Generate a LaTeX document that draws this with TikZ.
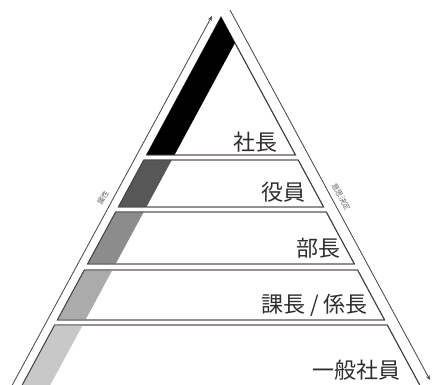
\documentclass[tikz,border=0pt]{standalone}
\usepackage{fontspec}
\newfontfamily\jp{Noto Sans CJK JP}
\usetikzlibrary{arrows.meta}
\definecolor{edge}{HTML}{4A4242}
\definecolor{bandA}{HTML}{000000}
\definecolor{bandB}{HTML}{575757}
\definecolor{bandC}{HTML}{8C8C8C}
\definecolor{bandD}{HTML}{ABABAB}
\definecolor{bandE}{HTML}{C8C8C8}
\definecolor{txt}{HTML}{2E2E2E}
\tikzset{
  layer/.style={draw=edge, line width=0.9pt, fill=white, line join=miter},
  lbl/.style={font=\jp\fontsize{22}{22}\selectfont, text=txt, anchor=east, inner sep=0pt},
  side/.style={font=\jp\fontsize{7.5}{7.5}\selectfont, text=edge!80, inner sep=0pt},
  axis/.style={draw=edge, line width=0.8pt, -{Stealth[length=5pt,width=4pt]}},
  shelf/.style={draw=edge, line width=0.9pt}
}
\begin{document}
\begin{tikzpicture}[x=1pt,y=-1pt]
\useasboundingbox (0,0) rectangle (432,385);
\clip (0,0) rectangle (432,385);
\fill[white] (0,0) rectangle (432,385);
% named corner coordinates
\coordinate (apex) at (221,17);
\coordinate (tr) at (235,43);
\coordinate (l1b) at (146.5,155); \coordinate (r1b) at (295.5,155);
\coordinate (l2t) at (143.8,160); \coordinate (r2t) at (298.2,160);
\coordinate (l2b) at (118.4,207); \coordinate (r2b) at (323.6,207);
\coordinate (l3t) at (115.7,212); \coordinate (r3t) at (326.3,212);
\coordinate (l3b) at (87.6,264);  \coordinate (r3b) at (354.4,264);
\coordinate (l4t) at (84.4,270);  \coordinate (r4t) at (357.6,270);
\coordinate (l4b) at (57.4,320);  \coordinate (r4b) at (384.6,320);
\coordinate (l5t) at (54.7,325);  \coordinate (r5t) at (387.3,325);
\coordinate (l5b) at (18.5,392);  \coordinate (r5b) at (423.5,392);
% layers
\path[layer] (apex) -- (r1b) -- (l1b) -- cycle;
\path[layer] (l2t) -- (r2t) -- (r2b) -- (l2b) -- cycle;
\path[layer] (l3t) -- (r3t) -- (r3b) -- (l3b) -- cycle;
\path[layer] (l4t) -- (r4t) -- (r4b) -- (l4b) -- cycle;
\path[layer] (l5t) -- (r5t) -- (r5b) -- (l5b) -- cycle;
% bands
\fill[bandA] (apex) -- (tr) -- ([xshift=28pt]l1b) -- (l1b) -- cycle;
\fill[bandB] (l2t) -- ([xshift=28pt]l2t) -- ([xshift=28pt]l2b) -- (l2b) -- cycle;
\fill[bandC] (l3t) -- ([xshift=28pt]l3t) -- ([xshift=28pt]l3b) -- (l3b) -- cycle;
\fill[bandD] (l4t) -- ([xshift=28pt]l4t) -- ([xshift=28pt]l4b) -- (l4b) -- cycle;
\fill[bandE] (l5t) -- ([xshift=28pt]l5t) -- ([xshift=28pt]l5b) -- (l5b) -- cycle;
% redraw outlines on top
\draw[shelf] (l1b) -- (r1b) -- (tr);
\draw[shelf] (l2t) -- (r2t) -- (r2b) -- (l2b) -- cycle;
\draw[shelf] (l3t) -- (r3t) -- (r3b) -- (l3b) -- cycle;
\draw[shelf] (l4t) -- (r4t) -- (r4b) -- (l4b) -- cycle;
\draw[shelf] (l5t) -- (r5t) -- (r5b) -- (l5b) -- cycle;
% outer arrows
\coordinate (la) at (12.3,385);
\coordinate (lz) at (212,16);
\coordinate (ra) at (230,10);
\coordinate (rz) at (430,380);
\draw[axis] (la) -- (lz);
\draw[axis] (ra) -- (rz);
% side labels
\node[side, rotate=61.6] (sl) at (103,198) {属性};
\node[side, rotate=-61.6] (sr) at (341,197) {意思決定};
% labels
\node[lbl] (n1) at (278,142) {社長};
\node[lbl] (n2) at (306,192) {役員};
\node[lbl] (n3) at (341,248) {部長};
\node[lbl] (n4) at (368,305) {課長 / 係長};
\node[lbl] (n5) at (401,370) {一般社員};
\end{tikzpicture}
\end{document}
